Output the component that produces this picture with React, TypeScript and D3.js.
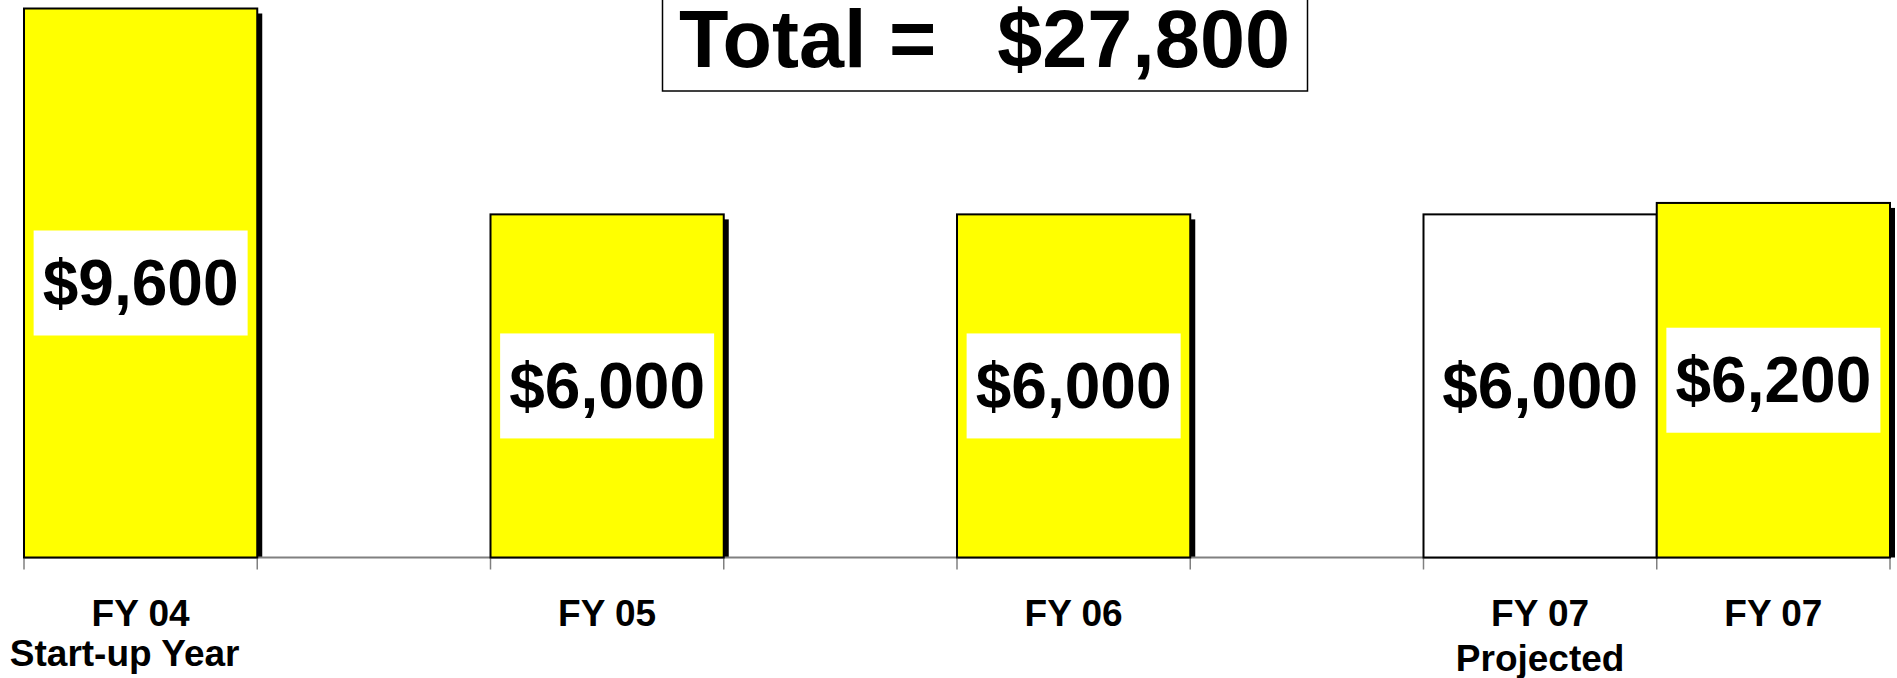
import React from "react";
import * as d3 from "d3";

const slotIds = ["FY04", "gapA", "FY05", "gapB", "FY06", "gapC", "FY07P", "FY07"];
const barIds = ["FY04", "FY05", "FY06", "FY07P", "FY07"];
const barLabels = ["FY 04", "FY 05", "FY 06", "FY 07", "FY 07"];
const barSubLabels = ["Start-up Year", "", "", "Projected", ""];
const barValues = [9600, 6000, 6000, 6000, 6200];
const barProjected = [false, false, false, true, false];
const totalLabel = "Total =";
const totalValue = 27800;

const W = 1897;
const H = 678;
const FONT = "'Liberation Sans', Arial, Helvetica, sans-serif";

export default function App() {
  const x = d3.scaleBand<string>().domain(slotIds).range([24, 1890]).padding(0);
  const y = d3.scaleLinear().domain([0, 9600]).range([557.5, 8.5]);
  const fmt = (v: number) => "$" + d3.format(",")(v);
  const base = y(0);
  const bw = x.bandwidth();
  const boundaries = slotIds.map((id) => x(id) as number).concat([x.range()[1]]);

  return (
    <svg width={W} height={H} style={{ position: "absolute", left: 0, top: 0, background: "#fff" }}>
      <rect x={0} y={0} width={W} height={H} fill="#fff" />
      {/* shadows */}
      {barIds.map((id, i) =>
        barProjected[i] ? null : (
          <rect
            key={"s" + id}
            x={(x(id) as number) + 5}
            y={y(barValues[i]) + 5}
            width={bw}
            height={base - y(barValues[i]) - 5}
            fill="#000"
          />
        )
      )}
      {/* axis */}
      <line x1={boundaries[0]} x2={boundaries[boundaries.length - 1]} y1={base} y2={base} stroke="#808080" strokeWidth={2} />
      {boundaries.map((bx, i) => (
        <line key={"t" + i} x1={bx} x2={bx} y1={base} y2={base + 12} stroke="#808080" strokeWidth={1.5} />
      ))}
      {/* bars */}
      {barIds.map((id, i) => (
        <rect
          key={"b" + id}
          x={x(id) as number}
          y={y(barValues[i])}
          width={bw}
          height={base - y(barValues[i])}
          fill={barProjected[i] ? "#ffffff" : "#ffff00"}
          stroke="#000"
          strokeWidth={2}
        />
      ))}
      {/* value labels */}
      {barIds.map((id, i) => {
        const cx = (x(id) as number) + bw / 2;
        const cy = (y(barValues[i]) + base) / 2;
        return (
          <g key={"l" + id}>
            <rect x={cx - 107} y={cy - 52.5} width={214} height={105} fill="#fff" />
            <text
              x={cx}
              y={cy + 22}
              textAnchor="middle"
              fontFamily={FONT}
              fontWeight="bold"
              fontSize={64}
              fill="#000"
            >
              {fmt(barValues[i])}
            </text>
          </g>
        );
      })}
      {/* category labels */}
      {barIds.map((id, i) => {
        const cx = (x(id) as number) + bw / 2;
        const subDx = i === 0 ? -16 : 0;
        return (
          <g key={"c" + id}>
            <text x={cx} y={626} textAnchor="middle" fontFamily={FONT} fontWeight="bold" fontSize={37} fill="#000">
              {barLabels[i]}
            </text>
            {barSubLabels[i] && (
              <text
                x={cx + subDx}
                y={barProjected[i] ? 671 : 666}
                textAnchor="middle"
                fontFamily={FONT}
                fontWeight="bold"
                fontSize={37}
                fill="#000"
              >
                {barSubLabels[i]}
              </text>
            )}
          </g>
        );
      })}
      {/* title box */}
      <rect x={662.5} y={-3} width={645} height={94} fill="#fff" stroke="#000" strokeWidth={1.5} />
      <text x={679} y={67} textAnchor="start" fontFamily={FONT} fontWeight="bold" fontSize={81} fill="#000">
        {totalLabel}
      </text>
      <text x={1290} y={67} textAnchor="end" fontFamily={FONT} fontWeight="bold" fontSize={81} fill="#000">
        {fmt(totalValue)}
      </text>
    </svg>
  );
}
